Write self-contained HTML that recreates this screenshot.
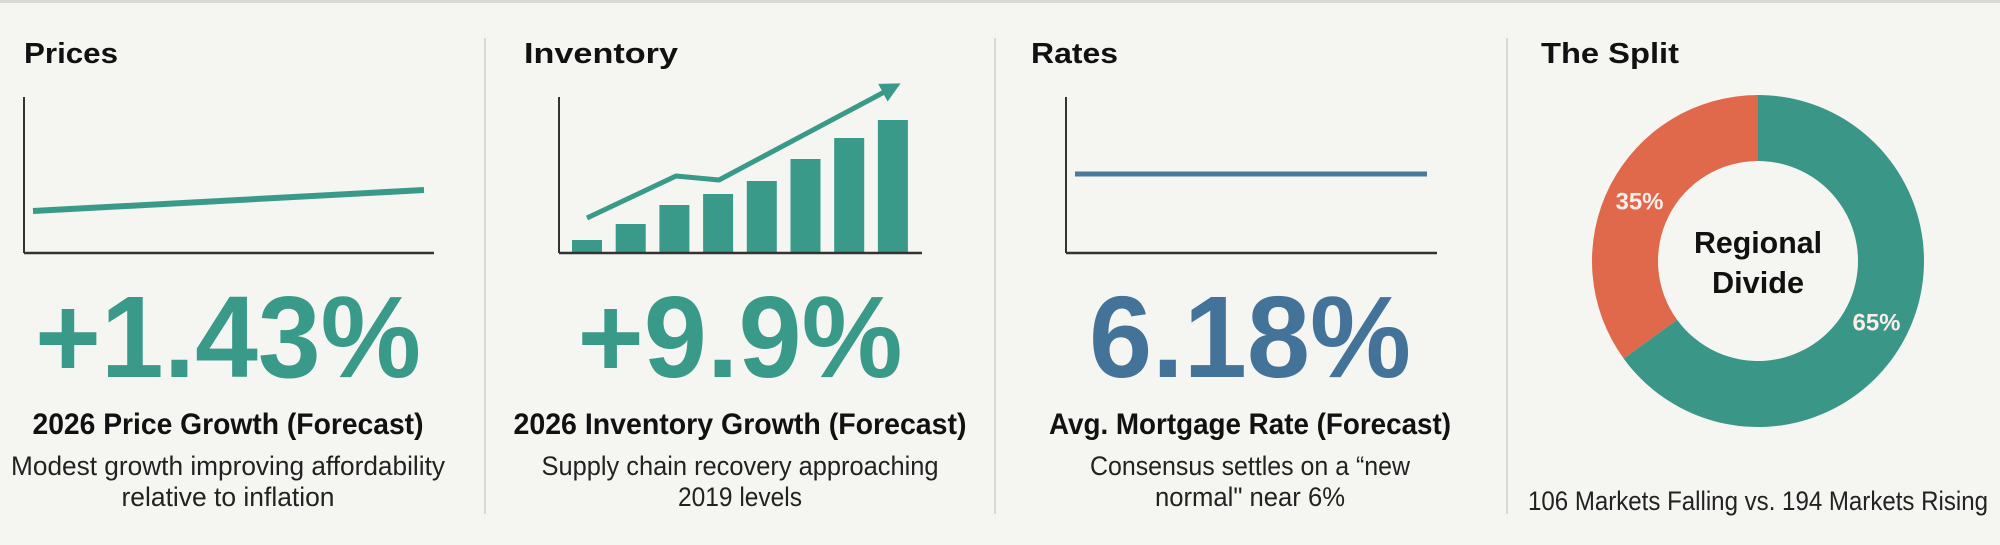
<!DOCTYPE html>
<html><head><meta charset="utf-8">
<style>
html,body{margin:0;padding:0;background:#f5f5f1;}
svg{display:block;}
text{font-family:"Liberation Sans",sans-serif;}
</style></head>
<body>
<svg id="chart" width="2000" height="545" viewBox="0 0 2000 545" xmlns="http://www.w3.org/2000/svg">
<rect x="0" y="0" width="2000" height="545" fill="#f5f5f1"/>
<rect x="0" y="0" width="2000" height="3" fill="#d8d8d4"/>
<line x1="485" y1="38" x2="485" y2="514" stroke="#cfcfcb" stroke-width="1.5"/>
<line x1="995" y1="38" x2="995" y2="514" stroke="#cfcfcb" stroke-width="1.5"/>
<line x1="1507" y1="38" x2="1507" y2="514" stroke="#cfcfcb" stroke-width="1.5"/>

<!-- Panel 1 -->
<text x="24" y="63" font-size="29" font-weight="bold" fill="#111" textLength="94" lengthAdjust="spacingAndGlyphs">Prices</text>
<g id="p1">
<line x1="24" y1="97" x2="24" y2="253" stroke="#333" stroke-width="2"/>
<line x1="24" y1="253" x2="434" y2="253" stroke="#333" stroke-width="2.5"/>
</g>
<text x="228" y="377" text-anchor="middle" font-size="116" font-weight="bold" fill="#3a9a8a" textLength="386" lengthAdjust="spacingAndGlyphs">+1.43%</text>
<text x="228" y="434" text-anchor="middle" font-size="30" font-weight="bold" fill="#111" textLength="391" lengthAdjust="spacingAndGlyphs">2026 Price Growth (Forecast)</text>
<text x="228" y="475" text-anchor="middle" font-size="27" fill="#222" textLength="434" lengthAdjust="spacingAndGlyphs">Modest growth improving affordability</text>
<text x="228" y="506" text-anchor="middle" font-size="27" fill="#222" textLength="213" lengthAdjust="spacingAndGlyphs">relative to inflation</text>

<!-- Panel 2 -->
<text x="524" y="63" font-size="29" font-weight="bold" fill="#111" textLength="154" lengthAdjust="spacingAndGlyphs">Inventory</text>
<g id="p2">
<line x1="559" y1="97" x2="559" y2="253" stroke="#333" stroke-width="2"/>
</g>
<text x="740" y="377" text-anchor="middle" font-size="116" font-weight="bold" fill="#3a9a8a" textLength="325" lengthAdjust="spacingAndGlyphs">+9.9%</text>
<text x="740" y="434" text-anchor="middle" font-size="30" font-weight="bold" fill="#111" textLength="453" lengthAdjust="spacingAndGlyphs">2026 Inventory Growth (Forecast)</text>
<text x="740" y="475" text-anchor="middle" font-size="27" fill="#222" textLength="397" lengthAdjust="spacingAndGlyphs">Supply chain recovery approaching</text>
<text x="740" y="506" text-anchor="middle" font-size="27" fill="#222" textLength="124" lengthAdjust="spacingAndGlyphs">2019 levels</text>

<!-- Panel 3 -->
<text x="1031" y="63" font-size="29" font-weight="bold" fill="#111" textLength="87" lengthAdjust="spacingAndGlyphs">Rates</text>
<g id="p3">
<line x1="1066" y1="97" x2="1066" y2="253" stroke="#333" stroke-width="2"/>
<line x1="1066" y1="253" x2="1437" y2="253" stroke="#333" stroke-width="2.5"/>
</g>
<text x="1250" y="377" text-anchor="middle" font-size="116" font-weight="bold" fill="#44739a" textLength="322" lengthAdjust="spacingAndGlyphs">6.18%</text>
<text x="1250" y="434" text-anchor="middle" font-size="30" font-weight="bold" fill="#111" textLength="402" lengthAdjust="spacingAndGlyphs">Avg. Mortgage Rate (Forecast)</text>
<text x="1250" y="475" text-anchor="middle" font-size="27" fill="#222" textLength="320" lengthAdjust="spacingAndGlyphs">Consensus settles on a “new</text>
<text x="1250" y="506" text-anchor="middle" font-size="27" fill="#222" textLength="190" lengthAdjust="spacingAndGlyphs">normal" near 6%</text>

<!-- Panel 4 -->
<text x="1541" y="63" font-size="29" font-weight="bold" fill="#111" textLength="138" lengthAdjust="spacingAndGlyphs">The Split</text>
<g id="p4"></g>
<text x="1758" y="253" text-anchor="middle" font-size="31" font-weight="bold" fill="#111" textLength="128" lengthAdjust="spacingAndGlyphs">Regional</text>
<text x="1758" y="293" text-anchor="middle" font-size="31" font-weight="bold" fill="#111" textLength="92" lengthAdjust="spacingAndGlyphs">Divide</text>
<text x="1758" y="510" text-anchor="middle" font-size="27" fill="#222" textLength="460" lengthAdjust="spacingAndGlyphs">106 Markets Falling vs. 194 Markets Rising</text>
</svg>
<script>
const priceYears = [2025, 2026];
const priceValues = [1.0, 1.43];
const invCategories = [1,2,3,4,5,6,7,8];
const invValues = [13, 29, 48, 59, 72, 94, 115, 133];
const invTrend = [35, 77, 73, 164];
const rateYears = [2025, 2026];
const rateValues = [6.18, 6.18];
const splitLabels = ['Falling', 'Rising'];
const splitValues = [35, 65];

const NS = 'http://www.w3.org/2000/svg';
function mk(tag, attrs, parent){const e=document.createElementNS(NS,tag);for(const k in attrs)e.setAttribute(k,attrs[k]);parent.appendChild(e);return e;}

(function(){
  const g=document.getElementById('p1');
  const x=i=>33+i*(424-33)/(priceYears.length-1);
  const y=v=>211-(v-1.0)*(21/0.43);
  const pts=priceValues.map((v,i)=>x(i)+','+y(v)).join(' ');
  const l=mk('polyline',{points:pts,fill:'none',stroke:'#3a9a8a','stroke-width':6},g);
  
  
})();

(function(){
  const g=document.getElementById('p2');
  const base=253, bw=30;
  const x=i=>572+i*43.7;
  const h=v=>v;
  invValues.forEach((v,i)=>{
    const r=mk('rect',{x:x(i),y:base-h(v),width:bw,height:h(v),fill:'#3a9a8a'},g);
    
    
  });
  const tx=[587,676,719,890];
  const pts=invTrend.map((v,i)=>tx[i]+','+(base-v)).join(' ');
  const pl=mk('polyline',{points:pts,fill:'none',stroke:'#3a9a8a','stroke-width':5,'stroke-linejoin':'round'},g);
  
  
  const x1=tx[2],y1=base-invTrend[2],x2=tx[3],y2=base-invTrend[3];
  const a=Math.atan2(y2-y1,x2-x1);
  const tipx=x2+Math.cos(a)*12, tipy=y2+Math.sin(a)*12;
  const L=20,W=10;
  const bx=tipx-Math.cos(a)*L, by=tipy-Math.sin(a)*L;
  const hd=mk('polygon',{points:`${tipx},${tipy} ${bx+Math.sin(a)*W},${by-Math.cos(a)*W} ${bx-Math.sin(a)*W},${by+Math.cos(a)*W}`,fill:'#3a9a8a'},g);
  
  
  const ax=mk('line',{x1:559,y1:base,x2:922,y2:base,stroke:'#333','stroke-width':2.5},g);
  
  
})();

(function(){
  const g=document.getElementById('p3');
  const x=i=>1075+i*(1427-1075)/(rateYears.length-1);
  const y=v=>174-(v-6.18)*40;
  const pts=rateValues.map((v,i)=>x(i)+','+y(v)).join(' ');
  const l=mk('polyline',{points:pts,fill:'none',stroke:'#4a7a9c','stroke-width':5},g);
  
  
})();

(function(){
  const g=document.getElementById('p4');
  const cx=1758, cy=261, R=166, r=100;
  const total=splitValues.reduce((a,b)=>a+b,0);
  const colors=['#e0684b','#3a9787'];
  const pt=(ang,rad)=>[cx+rad*Math.sin(ang), cy-rad*Math.cos(ang)];
  let start=-splitValues[0]/total*2*Math.PI;
  splitValues.forEach((v,i)=>{
    const sweep=v/total*2*Math.PI, end=start+sweep;
    const [x1,y1]=pt(start,R),[x2,y2]=pt(end,R),[x3,y3]=pt(end,r),[x4,y4]=pt(start,r);
    const large=sweep>Math.PI?1:0;
    const p=mk('path',{d:`M${x1},${y1} A${R},${R} 0 ${large} 1 ${x2},${y2} L${x3},${y3} A${r},${r} 0 ${large} 0 ${x4},${y4} Z`,fill:colors[i]},g);
    
    
    const mid=start+sweep*0.5;
    const [lx,ly]=pt(mid,133);
    const t=mk('text',{x:lx,y:ly+9,'text-anchor':'middle','font-size':24,'font-weight':'bold',fill:'#fbeee8'},g);
    
    
    t.textContent=v+'%';
    start=end;
  });
})();
</script>
</body></html>
